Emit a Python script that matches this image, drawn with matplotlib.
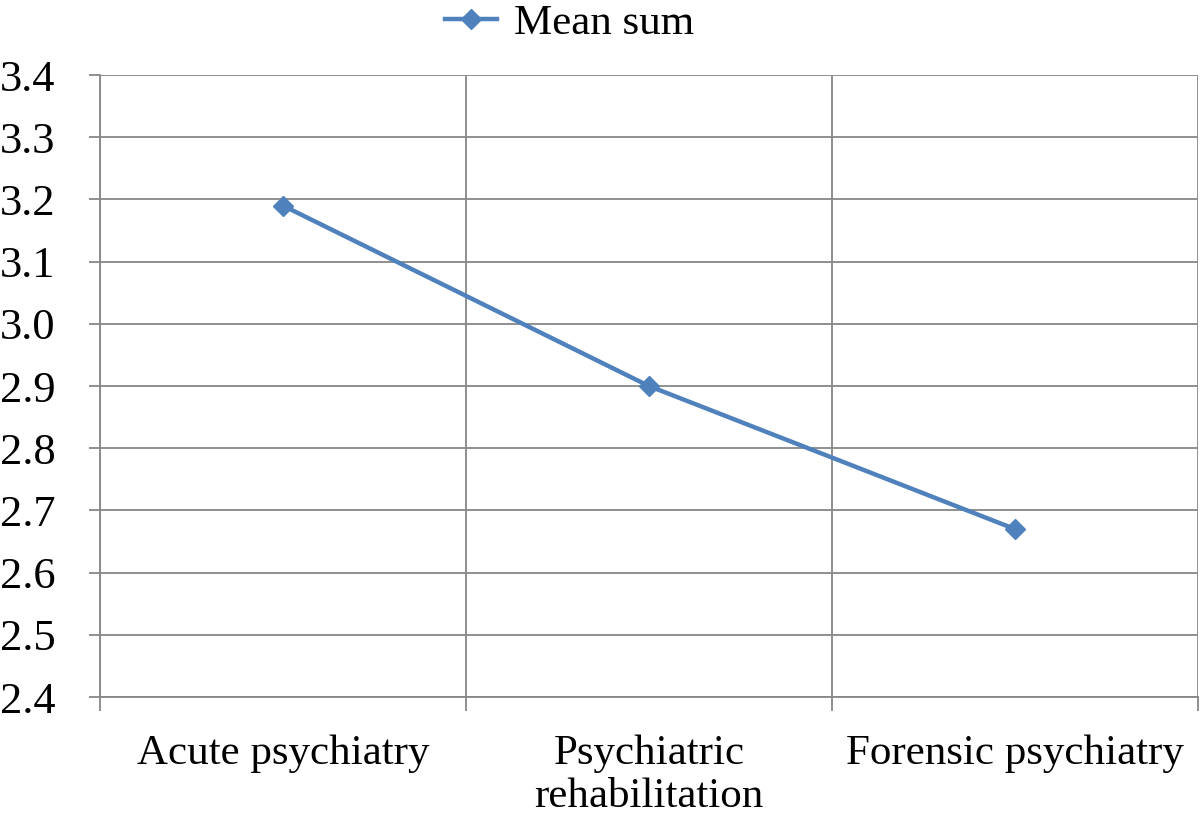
import matplotlib.pyplot as plt
from matplotlib.ticker import MultipleLocator, FixedLocator

plt.rcParams['font.family'] = ['Liberation Serif', 'DejaVu Serif']

categories = ['Acute psychiatry', 'Psychiatric\nrehabilitation', 'Forensic psychiatry']
mean_sum = [3.19, 2.90, 2.67]

fig = plt.figure(figsize=(12, 8.21), dpi=100)
ax = fig.add_axes([0.0833, 0.151, 0.915, 0.7576])

x = range(len(categories))
ax.plot(x, mean_sum, color='#4F81BD', linewidth=3.2, marker='D', markersize=10,
        label='Mean sum')

ax.set_xlim(-0.5, len(categories) - 0.5)
ax.set_ylim(2.4, 3.4)
ax.yaxis.set_major_locator(MultipleLocator(0.1))
ax.yaxis.set_major_formatter(plt.FormatStrFormatter('%.1f'))
ax.set_xticks(list(x))
ax.set_xticklabels(categories, fontsize=31, linespacing=1.15)
ax.xaxis.set_minor_locator(FixedLocator([-0.5, 0.5, 1.5, 2.5]))
ax.tick_params(axis='x', which='major', length=0, pad=27)
ax.tick_params(axis='x', which='minor', length=10, width=1.3, color='#878787')
ax.tick_params(axis='y', length=8, width=1.3, color='#878787', labelsize=32, pad=24)

ax.grid(axis='y', which='major', color='#878787', linewidth=1.3)
ax.grid(axis='x', which='minor', color='#878787', linewidth=1.3)
for side in ['top', 'right']:
    ax.spines[side].set_visible(False)
for side in ['left', 'bottom']:
    ax.spines[side].set_color('#878787')
    ax.spines[side].set_linewidth(1.3)
ax.set_axisbelow(True)

fig.legend(loc='upper center', bbox_to_anchor=(0.475, 1.042), frameon=False,
           fontsize=31, handlelength=1.2, handletextpad=0.4)

fig.savefig('out.png', dpi=100)
